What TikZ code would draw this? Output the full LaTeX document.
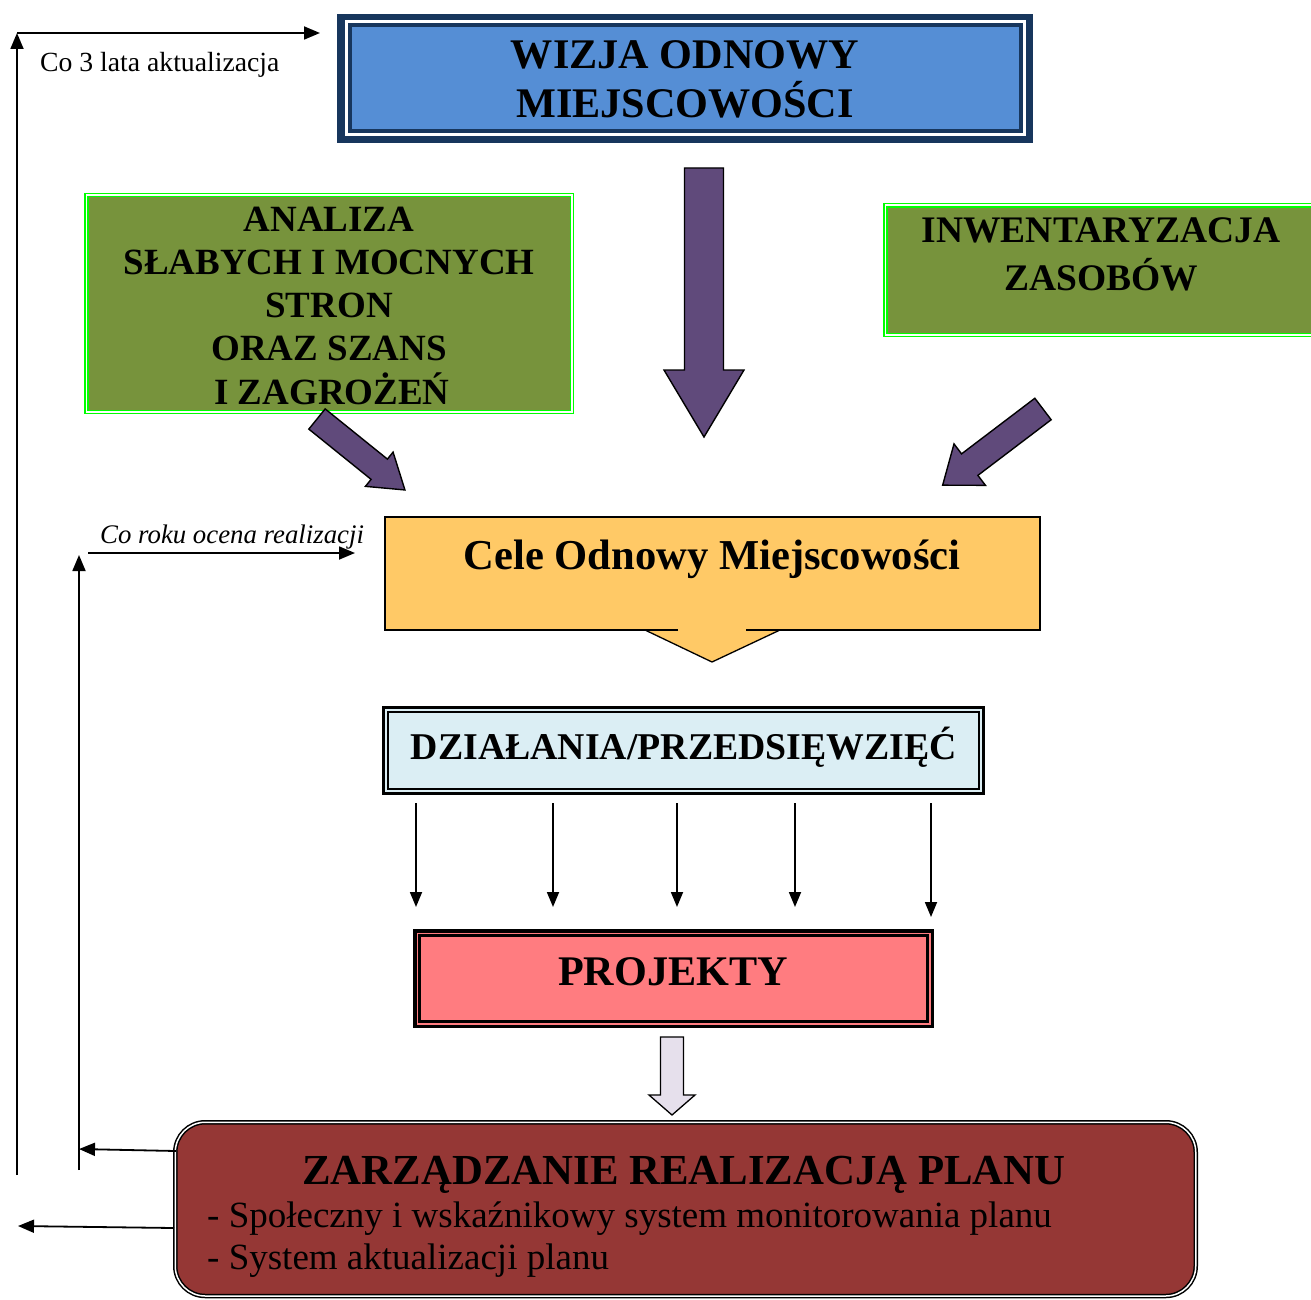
\documentclass[tikz,border=0pt]{standalone}
\usepackage{fontspec}
\setmainfont{Liberation Serif}
\usetikzlibrary{arrows.meta,calc}
\definecolor{navy}{HTML}{17365D}
\definecolor{wblue}{HTML}{558ED5}
\definecolor{olive}{HTML}{77933C}
\definecolor{lime}{HTML}{00FF00}
\definecolor{purp}{HTML}{604A7B}
\definecolor{gold}{HTML}{FFC966}
\definecolor{lblue}{HTML}{DBEEF4}
\definecolor{pinkbox}{HTML}{FF7C80}
\definecolor{lav}{HTML}{E6E0EC}
\definecolor{dred}{HTML}{953735}
\newcommand{\blockarr}[8]{%
  \begin{scope}[shift={(#1,#2)},rotate=#3]
    \filldraw[#8] (0,-#5) -- (#4-#7,-#5) -- (#4-#7,-#6) -- (#4,0) -- (#4-#7,#6) -- (#4-#7,#5) -- (0,#5) -- cycle;
  \end{scope}}
\begin{document}
\begin{tikzpicture}[x=1pt,y=-1pt,
  box/.style={inner sep=0pt, outer sep=0pt, anchor=north west, rectangle},
  greenbox/.style={box, fill=olive, draw=lime, line width=1.5pt, double=white, double distance=1.5pt},
  purparr/.style={fill=purp, draw=black, line width=1.4pt, line join=miter},
  hollowarr/.style={fill=lav, draw=black, line width=1.3pt},
  thinarr/.style={line width=1.8pt, -{Triangle[length=16pt,width=13pt]}},
  smallarr/.style={line width=1.8pt, -{Triangle[length=15pt,width=12pt]}},
  titleb/.style={font=\fontsize{42.2}{46}\selectfont\bfseries, inner sep=0pt, anchor=base},
  midb/.style={font=\fontsize{37}{42}\selectfont\bfseries, inner sep=0pt, anchor=base},
  plain/.style={font=\fontsize{37}{42}\selectfont, inner sep=0pt, anchor=base west},
  note/.style={font=\fontsize{27.7}{32}\selectfont, inner sep=0pt, anchor=base west},
  notei/.style={font=\fontsize{26.8}{30}\selectfont\itshape, inner sep=0pt, anchor=base west}]
\useasboundingbox (0,0) rectangle (1311,1300);
\clip (0,0) rectangle (1311,1300);
\fill[white] (0,0) rectangle (1311,1300);

% WIZJA box
\node[box, fill=navy, minimum width=696pt, minimum height=129pt] (wizja) at (337,14) {};
\fill[white] ($(wizja.north west)+(8,6)$) rectangle ($(wizja.south east)+(-7,-7)$);
\fill[navy] ($(wizja.north west)+(11,9)$) rectangle ($(wizja.south east)+(-10,-10)$);
\fill[wblue] ($(wizja.north west)+(15,13)$) rectangle ($(wizja.south east)+(-14,-14)$);
\node[titleb] (w1) at (685,69) {WIZJA ODNOWY};
\node[titleb] (w2) at (685,118) {MIEJSCOWOŚCI};

% ANALIZA box
\node[greenbox, minimum width=485.5pt, minimum height=216.5pt] (analiza) at (86.25,195.25) {};
\node[midb] (a1) at (329,231) {ANALIZA};
\node[midb] (a2) at (329,274) {SŁABYCH I MOCNYCH};
\node[midb] (a3) at (329,317.5) {STRON};
\node[midb] (a4) at (329,360) {ORAZ SZANS};
\node[midb] (a5) at (332,404) {I ZAGROŻEŃ};

% INWENTARYZACJA box
\node[greenbox, minimum width=440pt, minimum height=129.5pt] (inwent) at (885.25,205.25) {};
\node[midb, font=\fontsize{37.5}{42}\selectfont\bfseries] (i1) at (1101,242) {INWENTARYZACJA};
\node[midb, font=\fontsize{37.5}{42}\selectfont\bfseries] (i2) at (1101,290) {ZASOBÓW};

% block arrows
\blockarr{704}{168}{-90}{269}{19.5}{40}{67}{purparr}
\blockarr{317}{419}{-38.9}{113}{13}{22}{33}{purparr}
\blockarr{1043}{409}{-142.8}{126}{13.5}{26}{34}{purparr}

% Cele callout
\node[box, minimum width=655pt, minimum height=113pt] (cele) at (385,517) {};
\fill[gold] (cele.north west) -- (cele.north east) -- (cele.south east) -- (780,630) -- (712,662) -- (645,630) -- (cele.south west) -- cycle;
\draw[line width=1.3pt] (678,630) -- (cele.south west) -- (cele.north west) -- (cele.north east) -- (cele.south east) -- (746,630);
\draw[line width=1.3pt] (645,630) -- (712,662) -- (780,630);
\node[titleb, font=\fontsize{42.6}{46}\selectfont\bfseries] (c1) at (712,569) {Cele Odnowy Miejscowości};

% DZIALANIA box
\node[box, fill=lblue, draw=black, line width=3pt, minimum width=600pt, minimum height=86pt] (dz) at (383.5,707.5) {};
\draw[line width=1.5pt] ($(dz.north west)+(4.5,4.5)$) rectangle ($(dz.south east)+(-4.5,-4.5)$);
\node[midb, font=\fontsize{37.8}{42}\selectfont\bfseries] (d1) at (684,759) {DZIAŁANIA/PRZEDSIĘWZIĘĆ};

% thin arrows
\coordinate (t1a) at (416,803); \coordinate (t1b) at (416,907);
\coordinate (t2a) at (553,803); \coordinate (t2b) at (553,907);
\coordinate (t3a) at (677,803); \coordinate (t3b) at (677,907);
\coordinate (t4a) at (795,803); \coordinate (t4b) at (795,907);
\coordinate (t5a) at (931,803); \coordinate (t5b) at (931,917);
\foreach \k in {1,...,5} { \draw[smallarr] (t\k a) -- (t\k b); }

% PROJEKTY box
\node[box, fill=pinkbox, draw=black, line width=3.5pt, minimum width=517.5pt, minimum height=95.5pt] (proj) at (414.75,930.75) {};
\draw[line width=2.5pt] ($(proj.north west)+(4.75,4.75)$) rectangle ($(proj.south east)+(-4.75,-4.75)$);
\node[titleb] (p1) at (673,985) {PROJEKTY};

% hollow arrow
\blockarr{672}{1037}{-90}{78}{11.5}{23}{20}{hollowarr}

% ZARZADZANIE box
\node[box, fill=dred, draw=black, line width=1.5pt, double=white, double distance=1.5pt, rounded corners=30pt, minimum width=1020.5pt, minimum height=173.75pt] (zarz) at (175.25,1122.25) {};
\node[titleb, font=\fontsize{42.8}{46}\selectfont\bfseries] (z1) at (684,1184) {ZARZĄDZANIE REALIZACJĄ PLANU};
\node[plain] (z2) at (207,1227) {- Społeczny i wskaźnikowy system monitorowania planu};
\node[plain] (z3) at (207,1269) {- System aktualizacji planu};

% feedback loops
\coordinate (o1) at (17,1175); \coordinate (o2) at (17,33); \coordinate (o3) at (320,33);
\draw[thinarr] (o1) -- (o2);
\draw[thinarr] (o2) -- (o3);
\node[note] (n1) at (40,72) {Co 3 lata aktualizacja};
\coordinate (q1) at (79,1170); \coordinate (q2) at (79,555);
\coordinate (q3) at (88,553); \coordinate (q4) at (355,553);
\draw[thinarr] (q1) -- (q2);
\draw[thinarr] (q3) -- (q4);
\node[notei] (n2) at (100,543) {Co roku ocena realizacji};
\coordinate (zs1) at (176,1151); \coordinate (zt1) at (79,1149);
\coordinate (zs2) at (174,1228); \coordinate (zt2) at (18,1226);
\draw[thinarr] (zs1) -- (zt1);
\draw[thinarr] (zs2) -- (zt2);
\end{tikzpicture}
\end{document}
